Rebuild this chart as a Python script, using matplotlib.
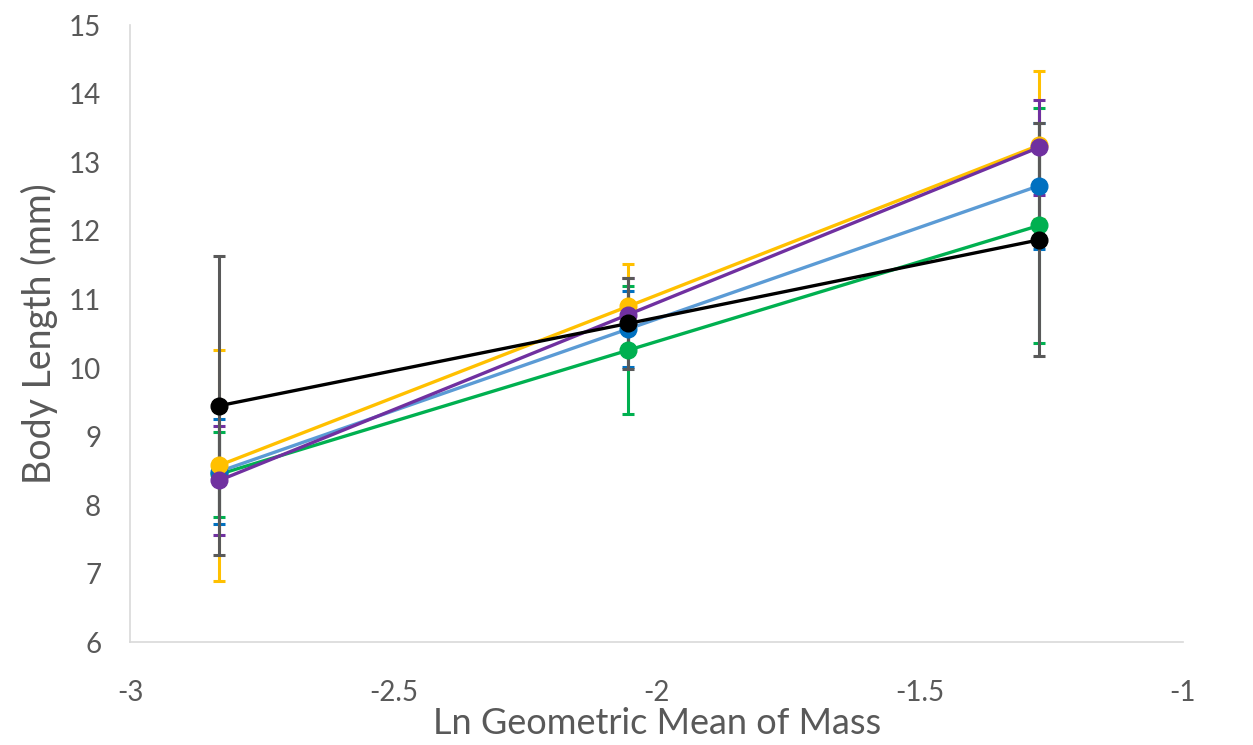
import numpy as np
import matplotlib.pyplot as plt

plt.rcParams['font.family'] = ['Lato', 'DejaVu Sans']

# x positions (ln geometric mean of mass)
x_vals = [-2.831, -2.054, -1.273]

# series means and error half-widths
green_y = [8.45, 10.26, 12.08]
green_err = [0.62, 0.93, 1.72]
blue_y = [8.49, 10.57, 12.66]
blue_err = [0.76, 0.55, 0.92]
yellow_y = [8.58, 10.90, 13.25]
yellow_err = [1.68, 0.62, 1.08]
purple_y = [8.36, 10.78, 13.22]
purple_err = [0.80, 0.54, 0.69]
black_y = [9.45, 10.65, 11.87]
black_err = [2.18, 0.66, 1.70]

series = [
    (green_y, green_err, '#00B050', '#00B050', '#00B050'),
    (blue_y, blue_err, '#5B9BD5', '#0070C0', '#0070C0'),
    (yellow_y, yellow_err, '#FFC000', '#FFC000', '#FFC000'),
    (purple_y, purple_err, '#7030A0', '#7030A0', '#7030A0'),
    (black_y, black_err, '#000000', '#000000', '#595959'),
]

fig = plt.figure(figsize=(12.53, 7.45), dpi=100)
ax = fig.add_axes([0.104, 0.138, 0.84, 0.828])

for i, (y, err, lc, mc, ec) in enumerate(series):
    ax.errorbar(x_vals, y, yerr=err, fmt='none', ecolor=ec, elinewidth=2.2,
                capsize=4.3, capthick=2.2, zorder=2 + i * 0.1)
for i, (y, err, lc, mc, ec) in enumerate(series):
    ax.plot(x_vals, y, color=lc, linewidth=2.4, zorder=4 + i * 0.1)
    ax.plot(x_vals, y, linestyle='none', marker='o', markersize=12,
            color=mc, zorder=4.05 + i * 0.1)

ax.set_xlim(-3, -1)
ax.set_ylim(6, 15)
ax.set_xticks([-3, -2.5, -2, -1.5, -1])
ax.set_xticklabels(['-3', '-2.5', '-2', '-1.5', '-1'])
ax.set_yticks(range(6, 16))

for s in ['top', 'right']:
    ax.spines[s].set_visible(False)
for s in ['left', 'bottom']:
    ax.spines[s].set_color('#D9D9D9')
    ax.spines[s].set_linewidth(1.2)
ax.tick_params(length=0, labelsize=20, colors='#595959')
ax.tick_params(axis='y', pad=21)
ax.tick_params(axis='x', pad=27)

ax.set_xlabel('Ln Geometric Mean of Mass', fontsize=26, color='#595959', labelpad=1)
ax.set_ylabel('Body Length (mm)', fontsize=27, color='#595959', labelpad=8)

fig.savefig('out.png', dpi=100)
